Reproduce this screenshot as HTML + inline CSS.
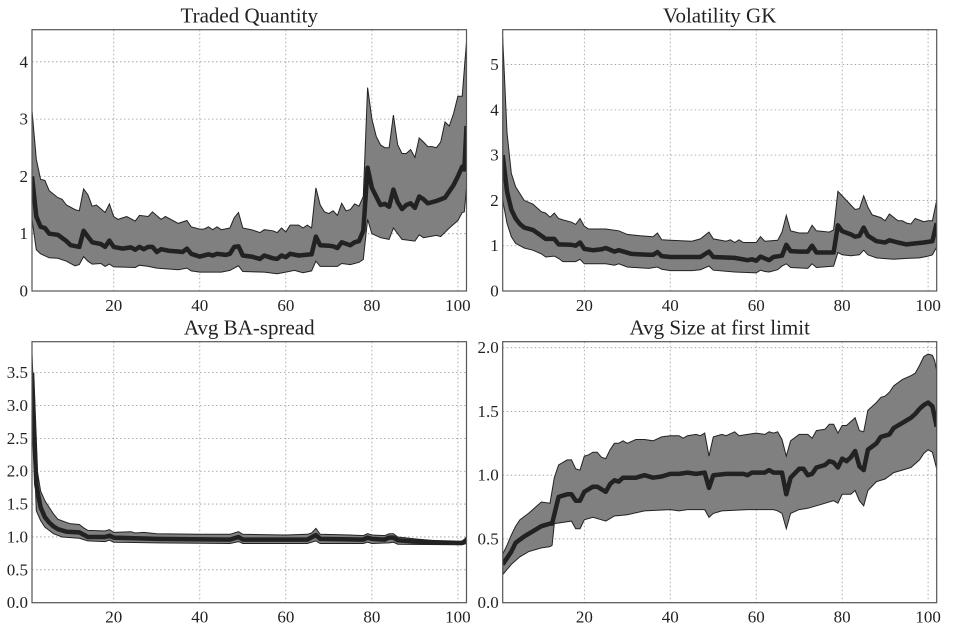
<!DOCTYPE html>
<html><head><meta charset="utf-8">
<style>
html,body{margin:0;padding:0;background:#fff;}
svg text{font-family:"Liberation Serif","DejaVu Serif",serif;fill:#222;}
</style></head>
<body>
<svg id="chart" width="964" height="636" viewBox="0 0 964 636" xmlns="http://www.w3.org/2000/svg"></svg>
<script>
const xTicks=[20,40,60,80,100];
const tqUpper=[[1,3.15],[2,2.3],[3,1.95],[4,1.93],[5,1.75],[7,1.63],[8,1.6],[9,1.5],[11,1.42],[12,1.4],[13,1.78],[14,1.68],[15,1.48],[16,1.5],[18,1.37],[19,1.52],[20,1.3],[21,1.25],[23,1.3],[25,1.22],[26,1.32],[28,1.3],[29,1.38],[31,1.25],[32,1.3],[35,1.18],[37,1.23],[38,1.12],[40,1.08],[41,1.08],[42,1.12],[43,1.07],[44,1.12],[45,1.07],[47,1.1],[48,1.28],[49,1.37],[50,1.1],[52,1.07],[54,1.02],[55,1.07],[57,1.05],[58,1.02],[59,1.1],[60,1.03],[61,1.15],[63,1.15],[64,1.1],[65,1.15],[66,1.1],[67,1.8],[68,1.5],[69,1.38],[70,1.35],[71,1.4],[72,1.32],[73,1.53],[74,1.4],[75,1.42],[76,1.52],[77,1.48],[78,1.65],[79,3.55],[80,3.0],[81,2.7],[82,2.55],[83,2.5],[84,2.5],[85,3.07],[86,2.55],[87,2.4],[88,2.4],[89,2.47],[90,2.33],[91,2.67],[92,2.6],[93,2.52],[94,2.52],[95,2.5],[96,2.6],[97,2.95],[98,2.88],[99,3.1],[100,3.4],[101,3.4],[102,4.35]];
const tqMean=[[1,2.0],[2,1.3],[3,1.12],[4,1.1],[5,1.0],[7,0.98],[9,0.87],[10,0.8],[12,0.77],[13,1.05],[14,0.95],[15,0.85],[17,0.82],[18,0.77],[19,0.88],[20,0.77],[22,0.74],[24,0.76],[25,0.72],[26,0.77],[27,0.73],[28,0.77],[29,0.77],[30,0.68],[31,0.73],[33,0.7],[35,0.69],[36,0.68],[37,0.74],[38,0.65],[40,0.6],[42,0.64],[43,0.62],[44,0.65],[46,0.63],[47,0.65],[48,0.77],[49,0.78],[50,0.62],[52,0.6],[54,0.56],[55,0.62],[57,0.57],[58,0.56],[59,0.62],[60,0.59],[61,0.65],[63,0.62],[66,0.64],[67,0.95],[68,0.8],[70,0.79],[71,0.78],[72,0.75],[73,0.85],[75,0.8],[76,0.85],[77,0.87],[78,1.05],[79,2.15],[80,1.8],[81,1.65],[82,1.5],[83,1.52],[84,1.47],[85,1.77],[86,1.55],[87,1.43],[88,1.5],[89,1.53],[90,1.45],[91,1.65],[92,1.6],[93,1.53],[95,1.57],[97,1.63],[99,1.85],[100,2.0],[101,2.17],[101.5,2.12],[102,2.88]];
const tqLower=[[1,1.25],[2,0.72],[3,0.65],[5,0.58],[7,0.57],[9,0.52],[11,0.44],[12,0.46],[13,0.6],[14,0.52],[15,0.47],[17,0.48],[18,0.43],[19,0.47],[20,0.42],[25,0.41],[26,0.45],[28,0.43],[30,0.4],[35,0.37],[37,0.4],[38,0.35],[40,0.33],[45,0.33],[47,0.36],[49,0.44],[50,0.34],[55,0.33],[58,0.3],[60,0.33],[62,0.36],[64,0.32],[66,0.35],[67,0.52],[68,0.43],[72,0.43],[73,0.48],[75,0.46],[77,0.5],[78,0.55],[79,1.25],[80,1.0],[82,0.93],[84,0.9],[85,1.1],[86,1.0],[87,0.9],[90,0.87],[91,0.98],[92,0.93],[95,0.97],[96,0.95],[98,1.1],[100,1.23],[101,1.37],[101.5,1.38],[102,1.8]];
const vgUpper=[[1,5.6],[2,3.5],[3,2.6],[4,2.3],[5,2.15],[6,2.0],[8,1.92],[10,1.75],[11,1.72],[12,1.63],[13,1.72],[14,1.6],[15,1.57],[17,1.52],[18,1.47],[19,1.6],[20,1.43],[21,1.37],[25,1.37],[28,1.33],[30,1.25],[33,1.22],[36,1.2],[37,1.28],[38,1.13],[40,1.12],[45,1.1],[47,1.15],[49,1.3],[50,1.15],[53,1.1],[54,1.13],[55,1.07],[56,1.13],[57,1.07],[60,1.07],[61,1.2],[62,1.1],[65,1.12],[66,1.3],[67,1.67],[68,1.33],[70,1.28],[72,1.28],[73,1.45],[74,1.33],[77,1.3],[78,1.35],[79,2.2],[80,2.1],[82,1.9],[83,1.8],[84,1.82],[85,2.1],[86,1.85],[87,1.68],[89,1.62],[90,1.55],[91,1.7],[93,1.55],[94,1.55],[95,1.5],[96,1.48],[97,1.6],[99,1.53],[100,1.55],[101,1.55],[102,2.0]];
const vgMean=[[1,3.0],[2,2.2],[3,1.8],[4,1.6],[5,1.48],[6,1.4],[8,1.35],[10,1.22],[11,1.15],[13,1.15],[14,1.03],[17,1.02],[18,1.0],[19,1.07],[20,0.93],[22,0.9],[24,0.92],[25,0.95],[27,0.87],[28,0.9],[31,0.82],[35,0.8],[36,0.8],[37,0.86],[38,0.77],[40,0.75],[45,0.75],[47,0.75],[49,0.87],[50,0.75],[55,0.73],[58,0.68],[59,0.7],[60,0.67],[61,0.76],[62,0.72],[63,0.68],[64,0.75],[66,0.78],[67,1.02],[68,0.88],[70,0.87],[72,0.87],[73,1.0],[74,0.85],[78,0.85],[79,1.45],[80,1.32],[82,1.25],[83,1.2],[84,1.22],[85,1.4],[86,1.22],[88,1.1],[90,1.07],[91,1.12],[93,1.07],[95,1.03],[97,1.05],[99,1.07],[101,1.1],[102,1.5]];
const vgLower=[[1,2.0],[2,1.5],[3,1.2],[4,1.05],[5,1.0],[6,0.95],[8,0.9],[10,0.82],[11,0.75],[13,0.77],[14,0.72],[15,0.65],[18,0.65],[19,0.7],[20,0.6],[25,0.6],[27,0.57],[28,0.6],[30,0.53],[35,0.5],[37,0.53],[38,0.48],[40,0.45],[45,0.45],[47,0.47],[49,0.55],[50,0.46],[55,0.42],[60,0.4],[61,0.46],[62,0.43],[63,0.42],[65,0.47],[66,0.55],[67,0.6],[68,0.52],[72,0.5],[73,0.6],[74,0.52],[78,0.55],[79,0.85],[80,0.8],[82,0.78],[84,0.8],[85,0.9],[86,0.8],[88,0.73],[92,0.7],[95,0.72],[98,0.73],[100,0.77],[101,0.8],[102,0.97]];
const baUpper=[[1,3.8],[2,2.1],[3,1.7],[4,1.55],[5,1.45],[6,1.35],[7,1.27],[9,1.22],[10,1.2],[12,1.19],[13,1.14],[14,1.1],[18,1.09],[19,1.11],[20,1.07],[24,1.08],[25,1.06],[27,1.07],[30,1.05],[40,1.04],[47,1.04],[49,1.08],[50,1.04],[60,1.03],[65,1.04],[66,1.06],[67,1.13],[68,1.04],[75,1.03],[78,1.02],[79,1.05],[80,1.03],[83,1.02],[84,1.05],[85,1.05],[86,1.0],[90,0.97],[95,0.94],[100,0.93],[101,0.93],[102,1.0]];
const baMean=[[1,3.5],[2,1.8],[3,1.45],[4,1.3],[5,1.22],[6,1.16],[7,1.12],[9,1.08],[12,1.07],[14,1.0],[18,1.0],[19,1.02],[20,0.99],[30,0.97],[47,0.96],[49,1.0],[50,0.96],[65,0.96],[67,1.03],[68,0.97],[78,0.96],[79,0.99],[80,0.97],[83,0.96],[84,0.99],[85,0.99],[86,0.95],[90,0.93],[100,0.91],[101,0.91],[102,0.95]];
const baLower=[[1,3.2],[2,1.4],[3,1.25],[4,1.15],[5,1.1],[6,1.05],[8,1.0],[12,0.98],[14,0.94],[18,0.93],[19,0.95],[20,0.92],[30,0.91],[47,0.9],[49,0.93],[50,0.9],[65,0.9],[67,0.94],[68,0.9],[78,0.9],[79,0.92],[80,0.9],[84,0.91],[85,0.92],[86,0.89],[100,0.88],[101,0.88],[102,0.9]];
const szUpper=[[1,0.38],[2,0.45],[3,0.53],[4,0.6],[5,0.65],[7,0.7],[9,0.76],[10,0.79],[12,0.78],[13,0.98],[14,1.08],[15,1.1],[16,1.12],[17,1.12],[18,1.05],[19,1.04],[20,1.15],[21,1.16],[22,1.18],[23,1.18],[24,1.14],[25,1.13],[26,1.2],[27,1.25],[28,1.25],[29,1.27],[30,1.25],[32,1.28],[34,1.28],[36,1.27],[38,1.3],[40,1.31],[42,1.31],[43,1.29],[44,1.31],[46,1.32],[47,1.31],[48,1.33],[49,1.15],[50,1.3],[52,1.32],[53,1.31],[55,1.34],[56,1.31],[58,1.32],[60,1.33],[62,1.32],[63,1.34],[64,1.33],[65,1.34],[66,1.28],[67,1.15],[68,1.27],[70,1.32],[72,1.32],[73,1.29],[74,1.35],[76,1.36],[77,1.4],[78,1.4],[79,1.33],[80,1.39],[81,1.39],[82,1.42],[83,1.45],[84,1.35],[85,1.34],[86,1.51],[88,1.57],[89,1.61],[90,1.62],[91,1.65],[92,1.7],[94,1.75],[96,1.78],[97,1.8],[98,1.86],[99,1.93],[100,1.95],[101,1.94],[101.5,1.9],[102,1.82]];
const szMean=[[1,0.3],[3,0.4],[4,0.47],[6,0.52],[8,0.56],[10,0.6],[12,0.62],[12.5,0.62],[14,0.83],[16,0.85],[17,0.85],[18,0.8],[19,0.8],[20,0.87],[22,0.91],[23,0.91],[25,0.87],[26,0.93],[27,0.96],[28,0.95],[29,0.98],[32,0.98],[34,1.0],[36,0.98],[38,0.99],[40,1.01],[42,1.01],[44,1.02],[46,1.01],[48,1.02],[49,0.9],[50,1.0],[53,1.01],[57,1.01],[58,1.0],[59,1.02],[62,1.02],[63,1.04],[64,1.02],[66,1.02],[67,0.85],[68,0.98],[70,1.05],[71,1.05],[72,1.0],[73,1.01],[74,1.06],[76,1.08],[77,1.11],[78,1.1],[79,1.06],[80,1.13],[81,1.11],[82,1.14],[83,1.19],[84,1.07],[85,1.04],[86,1.2],[88,1.25],[89,1.3],[91,1.32],[92,1.37],[94,1.41],[96,1.45],[97,1.48],[98,1.52],[99,1.55],[100,1.57],[101,1.54],[102,1.38]];
const szLower=[[1,0.22],[3,0.3],[5,0.36],[7,0.4],[9,0.42],[10,0.43],[12,0.44],[12.5,0.45],[13,0.62],[15,0.63],[17,0.64],[18,0.58],[19,0.58],[20,0.65],[22,0.67],[24,0.65],[25,0.64],[27,0.68],[30,0.69],[34,0.72],[40,0.73],[42,0.72],[44,0.73],[48,0.73],[49,0.67],[50,0.7],[52,0.72],[58,0.73],[62,0.73],[64,0.73],[65,0.72],[66,0.7],[67,0.58],[68,0.7],[70,0.73],[72,0.74],[74,0.76],[78,0.8],[79,0.78],[80,0.85],[82,0.85],[83,0.88],[84,0.8],[85,0.76],[86,0.88],[88,0.95],[90,0.97],[92,1.02],[94,1.04],[96,1.06],[98,1.12],[99,1.17],[100,1.2],[101,1.18],[102,1.05]];
const tqTicks=[0,1,2,3,4], vgTicks=[0,1,2,3,4,5], baTicks=[0,0.5,1,1.5,2,2.5,3,3.5], szTicks=[0,0.5,1,1.5,2];

const NS='http://www.w3.org/2000/svg';
const svg=document.getElementById('chart');
function mk(tag,attrs,parent){const e=document.createElementNS(NS,tag);for(const k in attrs)e.setAttribute(k,attrs[k]);(parent||svg).appendChild(e);return e;}
const panels=[
 {id:'traded-quantity',title:'Traded Quantity',L:32,T:29.7,W:434.5,H:261.3,ymax:4.56,ticks:tqTicks,dec:0,up:tqUpper,mean:tqMean,lo:tqLower},
 {id:'volatility-gk',title:'Volatility GK',L:502.7,T:29.7,W:434,H:261.3,ymax:5.77,ticks:vgTicks,dec:0,up:vgUpper,mean:vgMean,lo:vgLower},
 {id:'avg-ba-spread',title:'Avg BA-spread',L:32,T:341.7,W:434.5,H:261,ymax:3.97,ticks:baTicks,dec:1,up:baUpper,mean:baMean,lo:baLower},
 {id:'avg-size-first-limit',title:'Avg Size at first limit',L:502.7,T:341.7,W:434,H:261,ymax:2.047,ticks:szTicks,dec:1,up:szUpper,mean:szMean,lo:szLower}
];
panels.forEach((p,i)=>{
 const g=mk('g',{});
 
 
 const xs=v=>p.L+(v-1)/101*p.W, ys=v=>p.T+p.H-v/p.ymax*p.H;
 const cp=mk('clipPath',{id:'clip'+i},g);mk('rect',{x:p.L,y:p.T,width:p.W,height:p.H},cp);
 xTicks.forEach(t=>{
  const l=mk('line',{x1:xs(t),x2:xs(t),y1:p.T,y2:p.T+p.H,stroke:'#999','stroke-width':0.8,'stroke-dasharray':'1.5,2.5'},g);
  
  const tx=mk('text',{x:xs(t),y:p.T+p.H+20,'text-anchor':'middle','font-size':17},g);tx.textContent=t;
  
 });
 p.ticks.forEach(t=>{
  const l=mk('line',{x1:p.L,x2:p.L+p.W,y1:ys(t),y2:ys(t),stroke:'#999','stroke-width':0.8,'stroke-dasharray':'1.5,2.5'},g);
  
  const tx=mk('text',{x:p.L-4,y:ys(t)+5.5,'text-anchor':'end','font-size':17},g);tx.textContent=t.toFixed(p.dec);
  
 });
 const pts=p.up.map(d=>xs(d[0]).toFixed(1)+','+ys(d[1]).toFixed(1)).concat(p.lo.slice().reverse().map(d=>xs(d[0]).toFixed(1)+','+ys(d[1]).toFixed(1)));
 const band=mk('polygon',{points:pts.join(' '),fill:'#808080',stroke:'#222','stroke-width':1,'clip-path':'url(#clip'+i+')'},g);
 
 const ln=mk('polyline',{points:p.mean.map(d=>xs(d[0]).toFixed(1)+','+ys(d[1]).toFixed(1)).join(' '),fill:'none',stroke:'#222','stroke-width':4.5,'stroke-linejoin':'round','clip-path':'url(#clip'+i+')'},g);
 
 const fr=mk('rect',{x:p.L,y:p.T,width:p.W,height:p.H,fill:'none',stroke:'#555','stroke-width':1.2},g);
 
 const ti=mk('text',{x:p.L+p.W/2,y:p.T-7,'text-anchor':'middle','font-size':21},g);ti.textContent=p.title;
 
});
</script>
</body></html>
